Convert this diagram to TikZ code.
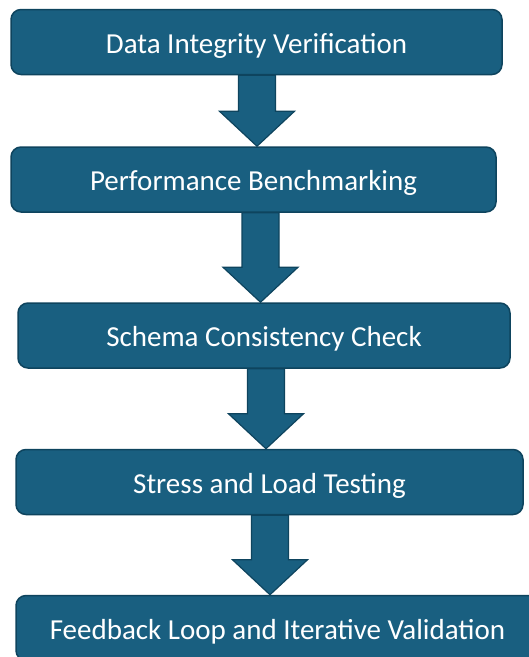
\documentclass[tikz,border=0pt]{standalone}
\usepackage{fontspec}
\setmainfont{Carlito}
\usepackage{tikz}
\usetikzlibrary{calc}

\definecolor{stagefill}{RGB}{25,95,128}
\definecolor{stageline}{RGB}{14,68,94}

\tikzset{
  stage/.style={draw=stageline,fill=stagefill,line width=1.5pt,rounded corners=10pt,
    text=white,font=\fontsize{29}{35}\selectfont,inner sep=0pt,
    text height=25pt,text depth=3pt,minimum height=65pt},
  flow/.style={draw=stageline,fill=stagefill,line width=1.2pt,line join=miter}
}

\newcommand{\flowarrow}[3]{%
  \draw[flow] ($(#3,0 |- #1.south)+(-18.5,0)$) -- ($(#3,0 |- #2.north)+(-18.5,-35)$)
    -- ++(-19,0) -- (#3,0 |- #2.north) -- ++(37.5,-35) -- ++(-19,0)
    -- ($(#3,0 |- #1.south)+(18.5,0)$) -- cycle;}

\begin{document}
\begin{tikzpicture}[x=1pt,y=-1pt]
	 \useasboundingbox (0,0) rectangle (529,657);
	 \node[stage,minimum width=491pt] (integrity) at (256.5,42) {Data Integrity Verification};
	 \node[stage,minimum width=485pt] (benchmark) at (253.5,179.5) {Performance Benchmarking};
	 \node[stage,minimum width=492pt] (schema) at (264,335.5) {Schema Consistency Check};
	 \node[stage,minimum width=507pt] (stress) at (269.5,482) {Stress and Load Testing};
	 \node[stage,minimum width=523pt] (feedback) at (277.5,628) {Feedback Loop and Iterative Validation};
	 \flowarrow{integrity}{benchmark}{257}
	 \flowarrow{benchmark}{schema}{260.5}
	 \flowarrow{schema}{stress}{266}
	 \flowarrow{stress}{feedback}{270}
\end{tikzpicture}
\end{document}
